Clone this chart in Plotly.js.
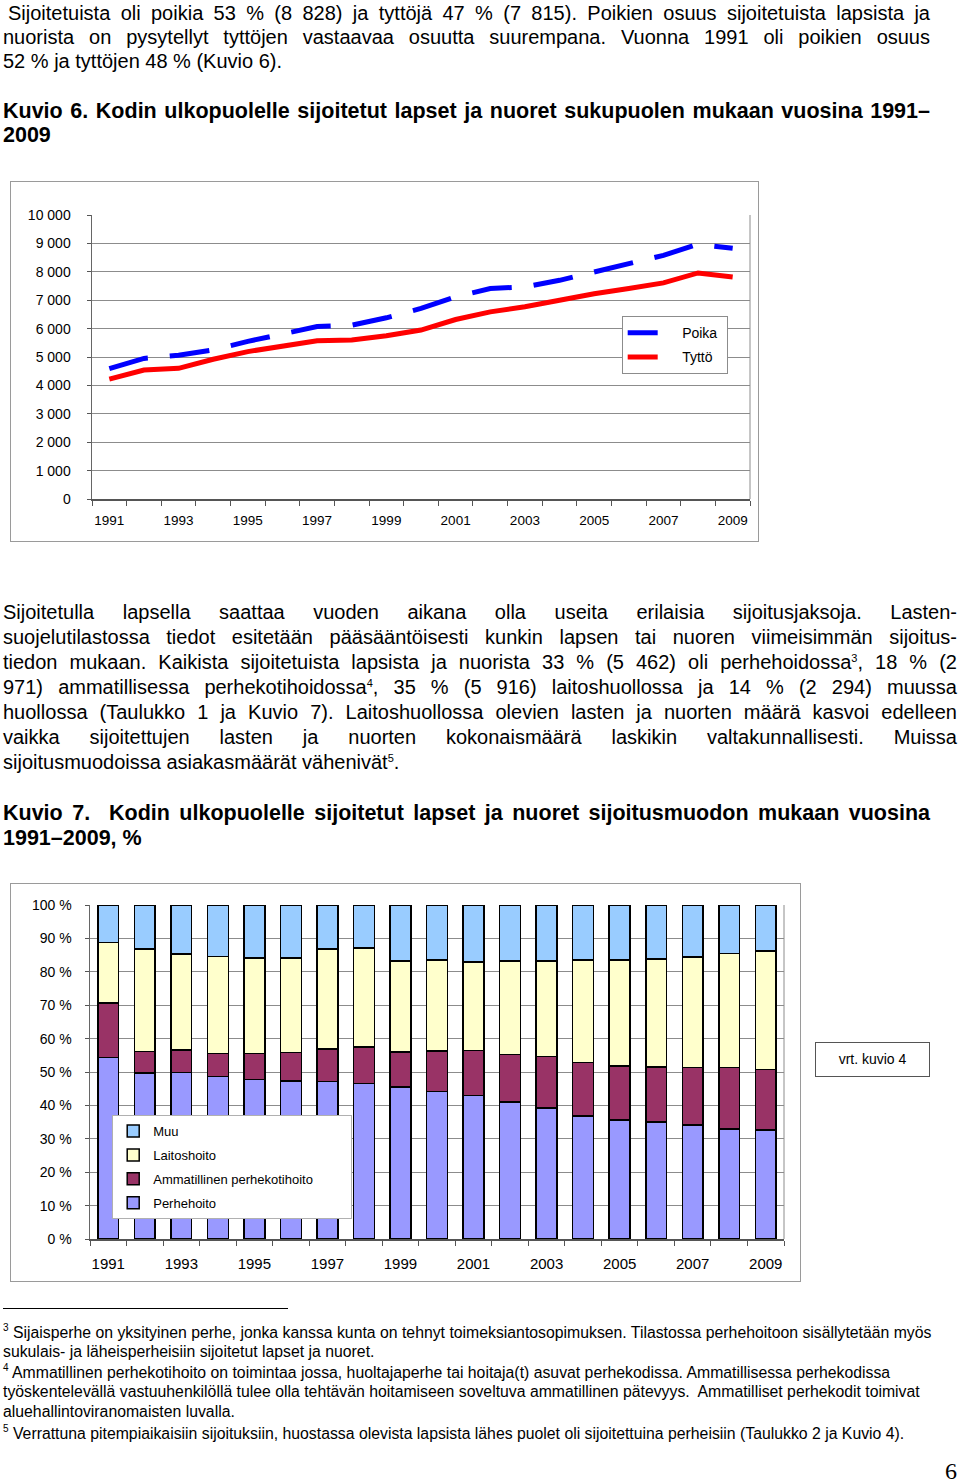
<!DOCTYPE html>
<html>
<head>
<meta charset="utf-8">
<script src="https://cdn.plot.ly/plotly-3.0.1.min.js"></script>
<style>
  body { margin: 0; background: #fff; width: 960px; height: 1482px; position: relative; overflow: hidden;
         font-family: "Liberation Sans", Arial, sans-serif; color: #000; }
  .ln { position: absolute; white-space: nowrap; font-size: 20px; line-height: 24px; }
  .j { text-align: justify; text-align-last: justify; }
  .b { font-weight: bold; font-size: 21.5px; }
  .fn { position: absolute; white-space: nowrap; font-size: 15.8px; line-height: 19px; left: 3px; }
  sup { font-size: 11px; line-height: 0; vertical-align: 7px; }
  .fn sup { font-size: 10px; vertical-align: 7px; }
  .frame { position: absolute; border: 1px solid #9a9a9a; }
</style>
</head>
<body>

<!-- kappale 1 -->
<div class="ln j" style="left:8px;width:922px;top:1px;">Sijoitetuista oli poikia 53 % (8 828) ja tyttöjä 47 % (7 815). Poikien osuus sijoitetuista lapsista ja</div>
<div class="ln j" style="left:3px;width:927px;top:25px;">nuorista on pysytellyt tyttöjen vastaavaa osuutta suurempana. Vuonna 1991 oli poikien osuus</div>
<div class="ln" style="left:3px;top:49px;">52 % ja tyttöjen 48 % (Kuvio 6).</div>

<div class="ln b j" style="left:3px;width:927px;top:99px;">Kuvio 6. Kodin ulkopuolelle sijoitetut lapset ja nuoret sukupuolen mukaan vuosina 1991–</div>
<div class="ln b" style="left:3px;top:123px;">2009</div>

<div class="frame" style="left:10px;top:181px;width:747px;height:359px;"></div>
<div id="kuvio6" style="position:absolute;left:10px;top:181px;width:748px;height:360px;"></div>

<!-- kappale 2 -->
<div class="ln j" style="left:3px;width:954px;top:600px;">Sijoitetulla lapsella saattaa vuoden aikana olla useita erilaisia sijoitusjaksoja. Lasten-</div>
<div class="ln j" style="left:3px;width:954px;top:625px;">suojelutilastossa tiedot esitetään pääsääntöisesti kunkin lapsen tai nuoren viimeisimmän sijoitus-</div>
<div class="ln j" style="left:3px;width:954px;top:650px;">tiedon mukaan. Kaikista sijoitetuista lapsista ja nuorista 33 % (5 462) oli perhehoidossa<sup>3</sup>, 18 % (2</div>
<div class="ln j" style="left:3px;width:954px;top:675px;">971) ammatillisessa perhekotihoidossa<sup>4</sup>, 35 % (5 916) laitoshuollossa ja 14 % (2 294) muussa</div>
<div class="ln j" style="left:3px;width:954px;top:700px;">huollossa (Taulukko 1 ja Kuvio 7). Laitoshuollossa olevien lasten ja nuorten määrä kasvoi edelleen</div>
<div class="ln j" style="left:3px;width:954px;top:725px;">vaikka sijoitettujen lasten ja nuorten kokonaismäärä laskikin valtakunnallisesti. Muissa</div>
<div class="ln" style="left:3px;top:750px;">sijoitusmuodoissa asiakasmäärät vähenivät<sup>5</sup>.</div>

<div class="ln b j" style="left:3px;width:927px;top:801px;">Kuvio 7.&nbsp; Kodin ulkopuolelle sijoitetut lapset ja nuoret sijoitusmuodon mukaan vuosina</div>
<div class="ln b" style="left:3px;top:826px;">1991–2009, %</div>

<div class="frame" style="left:10px;top:883px;width:789px;height:397px;"></div>
<div id="kuvio7" style="position:absolute;left:10px;top:883px;width:790px;height:398px;"></div>

<div style="position:absolute;left:815px;top:1042px;width:113px;height:33px;border:1.5px solid #555;font-size:14px;line-height:33px;text-align:center;">vrt. kuvio 4</div>

<!-- alaviitteet -->
<div style="position:absolute;left:3px;top:1308px;width:285px;height:1px;background:#000;"></div>
<div class="fn" style="top:1323px;"><sup>3</sup> Sijaisperhe on yksityinen perhe, jonka kanssa kunta on tehnyt toimeksiantosopimuksen. Tilastossa perhehoitoon sisällytetään myös</div>
<div class="fn" style="top:1342px;">sukulais- ja läheisperheisiin sijoitetut lapset ja nuoret.</div>
<div class="fn" style="top:1363px;"><sup>4</sup> Ammatillinen perhekotihoito on toimintaa jossa, huoltajaperhe tai hoitaja(t) asuvat perhekodissa. Ammatillisessa perhekodissa</div>
<div class="fn" style="top:1382px;">työskentelevällä vastuuhenkilöllä tulee olla tehtävän hoitamiseen soveltuva ammatillinen pätevyys.&nbsp; Ammatilliset perhekodit toimivat</div>
<div class="fn" style="top:1402px;">aluehallintoviranomaisten luvalla.</div>
<div class="fn" style="top:1424px;"><sup>5</sup> Verrattuna pitempiaikaisiin sijoituksiin, huostassa olevista lapsista lähes puolet oli sijoitettuina perheisiin (Taulukko 2 ja Kuvio 4).</div>

<div style="position:absolute;left:945px;top:1458px;font-family:'Liberation Serif','Times New Roman',serif;font-size:24px;">6</div>

<script>
// vuodet
const years = ['1991','1992','1993','1994','1995','1996','1997','1998','1999','2000',
               '2001','2002','2003','2004','2005','2006','2007','2008','2009'];
const yearLabels = years.map((y, i) => (i % 2 === 0 ? y : ''));

// Kuvio 6: sijoitetut sukupuolen mukaan
const poika = [4590, 4950, 5060, 5250, 5550, 5800, 6070, 6120, 6380, 6710,
               7120, 7410, 7470, 7700, 8000, 8290, 8580, 8970, 8828];
const tytto = [4220, 4540, 4600, 4920, 5190, 5360, 5570, 5600, 5750, 5950,
               6320, 6590, 6770, 7000, 7230, 7410, 7610, 7960, 7815];
const countTicks = [0, 1000, 2000, 3000, 4000, 5000, 6000, 7000, 8000, 9000, 10000];
const countLabels = ['0', '1 000', '2 000', '3 000', '4 000', '5 000', '6 000', '7 000', '8 000', '9 000', '10 000'];

// Kuvio 7: sijoitusmuodot, %
const perhehoito = [54.3, 49.7, 49.9, 48.6, 47.8, 47.3, 47.2, 46.6, 45.5, 44.1,
                    42.9, 41.0, 39.2, 36.9, 35.6, 35.0, 34.1, 33.0, 32.7];
const ammatillinen = [16.4, 6.4, 6.7, 7.0, 7.7, 8.6, 9.7, 10.9, 10.5, 12.2,
                      13.6, 14.3, 15.5, 15.9, 16.2, 16.5, 17.3, 18.4, 18.1];
const laitoshoito = [18.1, 30.8, 28.8, 29.0, 28.6, 28.2, 30.0, 29.7, 27.3, 27.2,
                     26.5, 28.0, 28.6, 30.7, 31.7, 32.3, 33.1, 34.1, 35.5];
const muu = [11.2, 13.1, 14.6, 15.4, 15.9, 15.9, 13.1, 12.8, 16.7, 16.5,
             17.0, 16.7, 16.7, 16.5, 16.5, 16.2, 15.5, 14.5, 13.7];
const pctTicks = [0, 10, 20, 30, 40, 50, 60, 70, 80, 90, 100];
const pctLabels = pctTicks.map(v => v + ' %');

const FONT = 'Liberation Sans, Arial, sans-serif';
const GRID = '#8c8c8c';
const NB = '\u00a0';

// --- Kuvio 6 ---
const traces6 = [
  { x: years, y: poika, mode: 'lines', name: NB.repeat(5) + 'Poika' + NB, legendgroup: 'p',
    line: { color: '#0000ff', width: 5, dash: '40px,22px' } },
  { x: years, y: tytto, mode: 'lines', name: NB.repeat(5) + 'Tyttö' + NB, legendgroup: 't',
    line: { color: '#ff0000', width: 5 } }
];
const layout6 = {
  width: 748, height: 360,
  margin: { l: 82, r: 8, t: 34, b: 42 },
  paper_bgcolor: 'rgba(0,0,0,0)', plot_bgcolor: '#fff',
  font: { family: FONT, size: 14, color: '#000' },
  showlegend: true,
  legend: { x: 0.805, y: 0.644, xanchor: 'left', yanchor: 'top',
            bgcolor: '#fff', bordercolor: '#8c8c8c', borderwidth: 1,
            font: { size: 14 }, tracegroupgap: 3, itemwidth: 30 },
  xaxis: { type: 'category', range: [-0.5, 18.5], tickmode: 'array', tickvals: years, ticktext: yearLabels,
           tickangle: 0, tickson: 'boundaries', ticks: 'outside', ticklen: 5, tickcolor: '#555',
           showline: true, linecolor: '#555', linewidth: 1.5, mirror: false,
           showgrid: false, zeroline: false, tickfont: { size: 13.5 }, ticklabelstandoff: 8 },
  yaxis: { range: [0, 10000], tickmode: 'array', tickvals: countTicks, ticktext: countLabels,
           ticks: 'outside', ticklen: 4, tickcolor: '#555',
           showline: true, linecolor: '#666', linewidth: 1.5, mirror: false,
           showgrid: true, gridcolor: GRID, gridwidth: 1, zeroline: false,
           tickfont: { size: 14 }, ticklabelstandoff: 13 },
  shapes: [
    { type: 'line', xref: 'paper', yref: 'paper', x0: 1, x1: 1, y0: 0, y1: 1,
      line: { color: GRID, width: 1 } }
  ]
};
Plotly.newPlot('kuvio6', traces6, layout6, { displayModeBar: false, staticPlot: true });

// --- Kuvio 7 ---
function barTrace(name, vals, color, rank) {
  return { type: 'bar', x: years, y: vals, name: name, legendgroup: name.trim(), legendrank: rank,
           marker: { color: color, line: { color: '#000', width: 1.5 } } };
}
const traces7 = [
  barTrace('Perhehoito', perhehoito, '#9999ff', 4),
  barTrace('Ammatillinen perhekotihoito' + NB.repeat(9), ammatillinen, '#993366', 3),
  barTrace('Laitoshoito', laitoshoito, '#ffffcc', 2),
  barTrace('Muu', muu, '#99ccff', 1)
];
const layout7 = {
  width: 790, height: 398,
  margin: { l: 80, r: 16, t: 22, b: 42 },
  paper_bgcolor: 'rgba(0,0,0,0)', plot_bgcolor: '#fff',
  font: { family: FONT, size: 14, color: '#000' },
  barmode: 'stack', bargap: 0.43,
  showlegend: true,
  legend: { x: 0.032, y: 0.371, xanchor: 'left', yanchor: 'top', traceorder: 'grouped',
            bgcolor: '#fff', bordercolor: '#b0b0b0', borderwidth: 1,
            font: { size: 13 }, tracegroupgap: 4, itemwidth: 30 },
  xaxis: { type: 'category', tickmode: 'array', tickvals: years, ticktext: yearLabels,
           tickangle: 0, tickson: 'boundaries', ticks: 'outside', ticklen: 5, tickcolor: '#555',
           showline: true, linecolor: '#555', linewidth: 1.5,
           showgrid: false, zeroline: false, tickfont: { size: 15 }, ticklabelstandoff: 10 },
  yaxis: { range: [0, 100], tickmode: 'array', tickvals: pctTicks, ticktext: pctLabels,
           ticks: 'outside', ticklen: 4, tickcolor: '#555',
           showline: true, linecolor: '#666', linewidth: 1.5,
           showgrid: true, gridcolor: GRID, gridwidth: 1, zeroline: false,
           tickfont: { size: 14 }, ticklabelstandoff: 10 },
  shapes: [
    { type: 'line', xref: 'paper', yref: 'paper', x0: 1, x1: 1, y0: 0, y1: 1,
      line: { color: GRID, width: 1 } }
  ]
};
Plotly.newPlot('kuvio7', traces7, layout7, { displayModeBar: false, staticPlot: true });
</script>
</body>
</html>
